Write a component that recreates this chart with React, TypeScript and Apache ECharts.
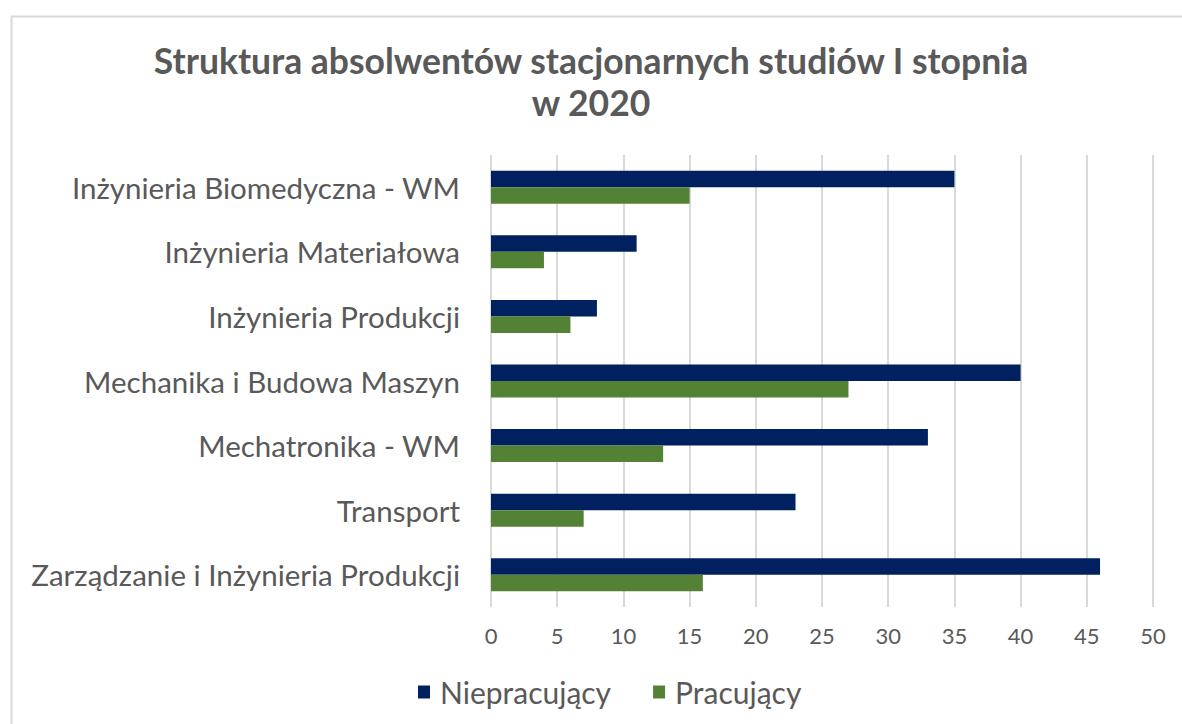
import React, { useEffect, useRef } from "react";
import * as echarts from "echarts";

const categories = [
  "Inżynieria Biomedyczna - WM",
  "Inżynieria Materiałowa",
  "Inżynieria Produkcji",
  "Mechanika i Budowa Maszyn",
  "Mechatronika - WM",
  "Transport",
  "Zarządzanie i Inżynieria Produkcji",
];
const niepracujacy = [35, 11, 8, 40, 33, 23, 46];
const pracujacy = [15, 4, 6, 27, 13, 7, 16];
const seriesNames = ["Niepracujący", "Pracujący"];
const titleText = "Struktura absolwentów stacjonarnych studiów I stopnia\nw 2020";

const FONT = "Lato, 'Open Sans', sans-serif";
const GREY = "#595959";

export default function App() {
  const ref = useRef<HTMLDivElement>(null);
  useEffect(() => {
    if (!ref.current) return;
    const chart = echarts.init(ref.current, undefined, { renderer: "svg" });
    chart.setOption({
      animation: false,
      backgroundColor: "#ffffff",
      textStyle: { fontFamily: FONT },
      title: {
        text: titleText,
        left: "center",
        top: 34,
        textStyle: {
          fontFamily: FONT,
          fontSize: 35.5,
          fontWeight: "bold",
          color: GREY,
          lineHeight: 42,
        },
      },
      graphic: [
        {
          type: "rect",
          left: 9,
          top: 14,
          z: -10,
          shape: { width: 1220, height: 800 },
          style: { fill: "none", stroke: "#d9d9d9", lineWidth: 2 },
        },
      ],
      legend: {
        bottom: 12,
        left: 413,
        itemWidth: 12,
        itemHeight: 13,
        itemGap: 42,
        icon: "rect",
        textStyle: { fontFamily: FONT, fontSize: 30, color: GREY, padding: [0, 0, 0, 5] },
        data: seriesNames,
      },
      grid: { left: 491, right: 29, top: 155, bottom: 117, containLabel: false },
      xAxis: {
        type: "value",
        min: 0,
        max: 50,
        interval: 5,
        axisLine: { show: false },
        axisTick: { show: false },
        splitLine: { show: true, lineStyle: { color: "#d9d9d9", width: 2 } },
        axisLabel: { fontFamily: FONT, fontSize: 22, color: GREY, margin: 17 },
      },
      yAxis: {
        type: "category",
        inverse: true,
        data: categories,
        axisLine: { show: false },
        axisTick: { show: false },
        axisLabel: {
          fontFamily: FONT,
          fontSize: 29.5,
          color: GREY,
          margin: 31,
          padding: [0, 0, 6, 0],
        },
      },
      series: [
        {
          name: seriesNames[0],
          type: "bar",
          data: niepracujacy,
          barWidth: 16.5,
          barGap: "0%",
          itemStyle: { color: "#002060" },
        },
        {
          name: seriesNames[1],
          type: "bar",
          data: pracujacy,
          barWidth: 16.5,
          barGap: "0%",
          itemStyle: { color: "#548235" },
        },
      ],
    });
    return () => chart.dispose();
  }, []);
  return (
    <div
      ref={ref}
      style={{ position: "absolute", left: 0, top: 0, width: 1182, height: 724 }}
    />
  );
}
